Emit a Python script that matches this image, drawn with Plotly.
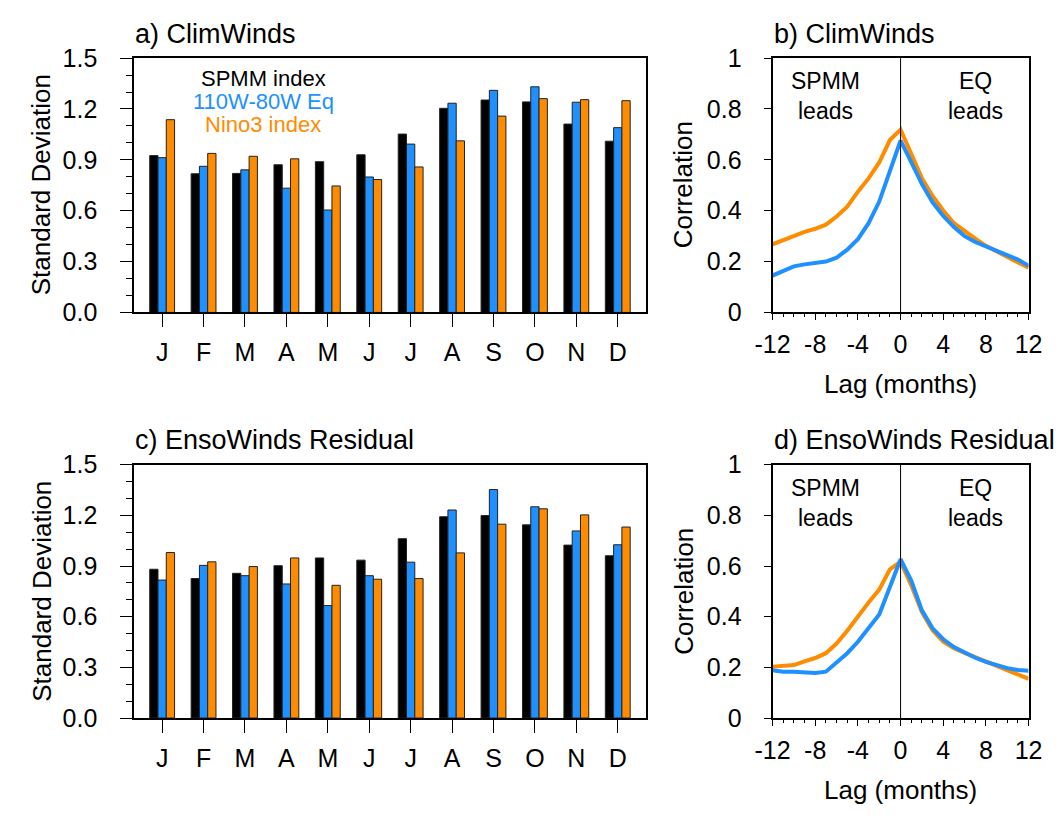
import plotly.graph_objects as go

# ---------------- data ----------------
months = ["J", "F", "M", "A", "M", "J", "J", "A", "S", "O", "N", "D"]
month_pos = list(range(1, 13))

# panel a) ClimWinds - standard deviation
a_spmm = [0.925, 0.818, 0.820, 0.871, 0.889, 0.930, 1.052, 1.204, 1.253, 1.242, 1.111, 1.010]
a_eq = [0.913, 0.862, 0.841, 0.733, 0.604, 0.799, 0.993, 1.234, 1.310, 1.331, 1.240, 1.090]
a_nino3 = [1.137, 0.938, 0.921, 0.906, 0.746, 0.784, 0.858, 1.012, 1.158, 1.261, 1.255, 1.249]

# panel c) EnsoWinds Residual - standard deviation
c_spmm = [0.881, 0.826, 0.857, 0.902, 0.948, 0.935, 1.062, 1.192, 1.199, 1.144, 1.024, 0.961]
c_eq = [0.817, 0.904, 0.843, 0.794, 0.666, 0.843, 0.923, 1.232, 1.353, 1.251, 1.108, 1.026]
c_nino3 = [0.980, 0.925, 0.897, 0.948, 0.786, 0.822, 0.826, 0.978, 1.148, 1.239, 1.203, 1.131]

lags = list(range(-12, 13))
lag_ticks = [-12, -8, -4, 0, 4, 8, 12]
lag_ticktext = ["-12", "-8", "-4", "0", "4", "8", "12"]

# panel b) ClimWinds - lag correlation
b_nino3 = [0.268, 0.285, 0.303, 0.317, 0.329, 0.345, 0.377, 0.416, 0.475, 0.527, 0.590, 0.678, 0.719,
           0.623, 0.528, 0.458, 0.401, 0.351, 0.319, 0.290, 0.262, 0.239, 0.218, 0.196, 0.176]
b_eq = [0.145, 0.164, 0.181, 0.189, 0.194, 0.200, 0.215, 0.247, 0.288, 0.351, 0.436, 0.556, 0.676,
        0.591, 0.505, 0.433, 0.379, 0.336, 0.300, 0.277, 0.259, 0.243, 0.226, 0.208, 0.183]

# panel d) EnsoWinds Residual - lag correlation
d_nino3 = [0.203, 0.204, 0.209, 0.224, 0.237, 0.256, 0.294, 0.345, 0.403, 0.456, 0.507, 0.587, 0.617,
           0.524, 0.418, 0.346, 0.301, 0.276, 0.257, 0.240, 0.222, 0.206, 0.189, 0.171, 0.155]
d_eq = [0.189, 0.183, 0.183, 0.181, 0.178, 0.183, 0.218, 0.256, 0.301, 0.354, 0.409, 0.517, 0.627,
        0.543, 0.425, 0.354, 0.311, 0.280, 0.257, 0.238, 0.222, 0.209, 0.197, 0.190, 0.187]

# ---------------- style ----------------
BLACK = "#000000"
BLUE = "#1E90FF"
ORANGE = "#FF8C00"
FONT = "Liberation Sans, Arial, Helvetica, sans-serif"
W, H = 1062, 818

fig = go.Figure()

def bars(xa, ya, s1, s2, s3):
    for vals, col in ((s1, BLACK), (s2, BLUE), (s3, ORANGE)):
        fig.add_trace(go.Bar(x=month_pos, y=vals, xaxis=xa, yaxis=ya,
                             marker=dict(color=col, line=dict(color="#222222", width=1)),
                             showlegend=False, hoverinfo="y"))

def lines(xa, ya, s_or, s_bl):
    for vals, col in ((s_or, ORANGE), (s_bl, BLUE)):
        fig.add_trace(go.Scatter(x=lags, y=vals, xaxis=xa, yaxis=ya, mode="lines",
                                 line=dict(color=col, width=4), showlegend=False))

bars("x", "y", a_spmm, a_eq, a_nino3)
lines("x2", "y2", b_nino3, b_eq)
bars("x3", "y3", c_spmm, c_eq, c_nino3)
lines("x4", "y4", d_nino3, d_eq)

def px_x(p):
    return p / W

def px_y(p):
    return 1 - p / H

bar_dom_x = [px_x(120), px_x(647)]
line_dom_x = [px_x(778), px_x(1042)]
top_dom = [px_y(309), px_y(45.7)]
bot_dom = [px_y(729), px_y(466.7)]

TICKFONT = dict(family=FONT, size=25, color="black")
common_line = dict(showline=True, linecolor="black", linewidth=2, mirror=True,
                   showgrid=False, zeroline=False, tickcolor="black", tickfont=TICKFONT)

def bar_x(dom, anchor):
    return dict(domain=dom, anchor=anchor, range=[0.33, 12.67], tickvals=month_pos,
                ticktext=months, ticks="outside", ticklen=13, tickwidth=1.3,
                ticklabelstandoff=4, **common_line)

def bar_y(dom, anchor):
    return dict(domain=dom, anchor=anchor, range=[0, 1.5],
                tickvals=[0, 0.3, 0.6, 0.9, 1.2, 1.5], tickformat=".1f",
                ticks="outside", ticklen=12, tickwidth=1.3, ticklabelstandoff=18,
                minor=dict(dtick=0.1, ticks="outside", ticklen=6, tickcolor="black", tickwidth=1.2),
                **common_line)

def line_x(dom, anchor):
    return dict(domain=dom, anchor=anchor, range=[-12, 12],
                tickvals=lag_ticks, ticktext=lag_ticktext, ticks="outside", ticklen=6, tickwidth=1.3,
                ticklabelstandoff=3,
                minor=dict(dtick=1, ticks="outside", ticklen=3, tickcolor="black", tickwidth=1.2),
                **common_line)

def line_y(dom, anchor):
    return dict(domain=dom, anchor=anchor, range=[0, 1],
                tickvals=[0, 0.2, 0.4, 0.6, 0.8, 1.0], ticktext=["0", "0.2", "0.4", "0.6", "0.8", "1"],
                ticks="outside", ticklen=7, tickwidth=1.3, ticklabelstandoff=17,
                **common_line)

fig.update_layout(
    width=W, height=H, autosize=False,
    margin=dict(l=0, r=0, t=0, b=0),
    paper_bgcolor="white", plot_bgcolor="white",
    barmode="group", bargap=0.4, bargroupgap=0,
    font=dict(family=FONT, color="black"),
    xaxis=bar_x(bar_dom_x, "y"), yaxis=bar_y(top_dom, "x"),
    xaxis2=line_x(line_dom_x, "y2"), yaxis2=line_y(top_dom, "x2"),
    xaxis3=bar_x(bar_dom_x, "y3"), yaxis3=bar_y(bot_dom, "x3"),
    xaxis4=line_x(line_dom_x, "y4"), yaxis4=line_y(bot_dom, "x4"),
)

# vertical reference line at lag 0
for xr, yr in (("x2", "y2"), ("x4", "y4")):
    fig.add_shape(type="line", xref=xr, yref=yr + " domain", x0=0, x1=0, y0=0, y1=1,
                  line=dict(color="black", width=1))

ann = []
def text(x, y, s, size=26, color="black", xanchor="center", angle=0, xref="paper", yref="paper"):
    ann.append(dict(x=x, y=y, xref=xref, yref=yref, text=s, showarrow=False,
                    xanchor=xanchor, yanchor="middle", textangle=angle,
                    font=dict(family=FONT, size=size, color=color)))

# panel titles
text(px_x(119), px_y(21), "a) ClimWinds", size=27, xanchor="left")
text(px_x(777), px_y(21), "b) ClimWinds", size=27, xanchor="left")
text(px_x(119), px_y(441), "c) EnsoWinds Residual", size=27, xanchor="left")
text(px_x(777), px_y(441), "d) EnsoWinds Residual", size=27, xanchor="left")

# axis titles
for yc in (177, 598):
    text(px_x(24), px_y(yc), "Standard Deviation", angle=-90)
    text(px_x(686), px_y(yc), "Correlation", angle=-90)
text(px_x(910), px_y(383), "Lag (months)")
text(px_x(910), px_y(803), "Lag (months)")

# legend text in panel a
text(px_x(253), px_y(67), "SPMM index", size=22, color=BLACK)
text(px_x(253), px_y(90.5), "110W-80W Eq", size=22, color=BLUE)
text(px_x(253), px_y(114), "Nino3 index", size=22, color=ORANGE)

# lead annotations
for xr, yr in (("x2", "y2"), ("x4", "y4")):
    text(-7, 0.85, "SPMM<br>leads", size=23, xref=xr, yref=yr)
    text(7, 0.85, "EQ<br>leads", size=23, xref=xr, yref=yr)

fig.update_layout(annotations=ann)

fig.write_html("out.html")
